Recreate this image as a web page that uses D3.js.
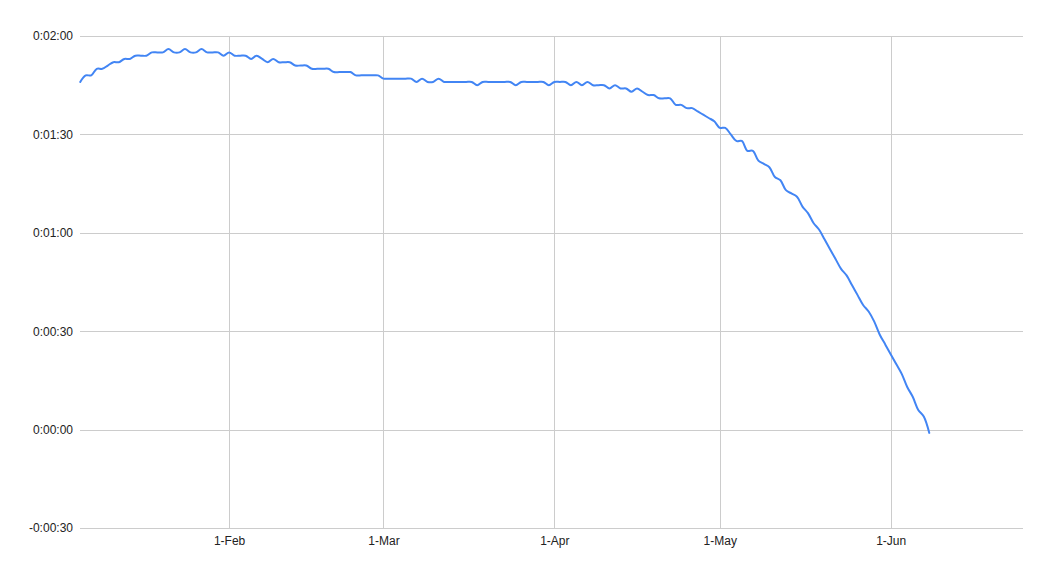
<!DOCTYPE html>
<html><head><meta charset="utf-8">
<script src="https://cdn.jsdelivr.net/npm/d3@7"></script>
<style>
html,body{margin:0;padding:0;background:#fff;}
svg{display:block;}
text{font-family:"Liberation Sans",Arial,sans-serif;font-size:12px;fill:#222;}
</style></head>
<body>
<svg id="chart" width="1052" height="577"></svg>
<script>
// Daily values in seconds, starting 5 Jan
const startDate = "2021-01-05";
const seconds = [
106,108,108,110,110,111,112,112,113,113,114,114,114,115,115,115,116,115,115,116,
115,115,116,115,115,115,114,115,114,114,114,113,114,113,112,113,112,112,112,111,
111,111,110,110,110,110,109,109,109,109,108,108,108,108,108,107,107,107,107,107,
107,106,107,106,106,107,106,106,106,106,106,106,105,106,106,106,106,106,106,105,
106,106,106,106,106,105,106,106,106,105,106,105,106,105,105,105,104,105,104,104,
103,104,103,102,102,101,101,101,99,99,98,98,97,96,95,94,92,92,90,88,
88,85,85,82,81,80,77,76,73,72,71,68,66,63,61,58,55,52,49,47,
44,41,38,36,33,29,26,23,20,17,13,10,6,4,-1
];
const yTicks = [-30, 0, 30, 60, 90, 120];
const xTickDates = ["2021-02-01","2021-03-01","2021-04-01","2021-05-01","2021-06-01"];
const xDomain = ["2021-01-04T23:00:00Z","2021-06-25T00:00:00Z"];

const svg = d3.select("#chart");
const M = {left:80, right:1023, top:36, bottom:528};
const day = 864e5;
const t0 = new Date(startDate + "T00:00:00Z");
const data = seconds.map((v,i)=>({d:new Date(+t0 + i*day), v}));

const x = d3.scaleUtc().domain(xDomain.map(s=>new Date(s))).range([M.left, M.right]);
const y = d3.scaleLinear().domain([-30,120]).range([M.bottom, M.top]);

function fmt(s){
  const sign = s<0?"-":"";
  const a = Math.abs(s);
  const h = Math.floor(a/3600), m = Math.floor((a%3600)/60), sec = a%60;
  return sign + h + ":" + String(m).padStart(2,"0") + ":" + String(sec).padStart(2,"0");
}

// horizontal gridlines + labels
const yAxis = d3.axisLeft(y).tickValues(yTicks).tickFormat(fmt).tickSize(-(M.right-M.left)).tickPadding(7);
const gy = svg.append("g").attr("transform",`translate(${M.left},0)`).call(yAxis);
gy.select(".domain").remove();
gy.selectAll(".tick line").attr("stroke","#cccccc").attr("shape-rendering","crispEdges");
gy.selectAll(".tick text").attr("fill","#222").style("font-size","12px");

// vertical gridlines + labels
const xTicks = xTickDates.map(s=>new Date(s+"T00:00:00Z"));
const xAxis = d3.axisBottom(x).tickValues(xTicks).tickFormat(d3.utcFormat("%-d-%b")).tickSize(-(M.bottom-M.top)).tickPadding(8);
const gx = svg.append("g").attr("transform",`translate(0,${M.bottom})`).call(xAxis);
gx.select(".domain").remove();
gx.selectAll(".tick line").attr("stroke","#cccccc").attr("shape-rendering","crispEdges");
gx.selectAll(".tick text").attr("fill","#222").style("font-size","12px");

// line
const line = d3.line().x(d=>x(d.d)).y(d=>y(d.v)).curve(d3.curveCatmullRom.alpha(0.5));
svg.append("path").datum(data).attr("d",line)
  .attr("fill","none").attr("stroke","#4285f4").attr("stroke-width",2)
  .attr("stroke-linejoin","round").attr("stroke-linecap","round");
</script>
</body></html>
